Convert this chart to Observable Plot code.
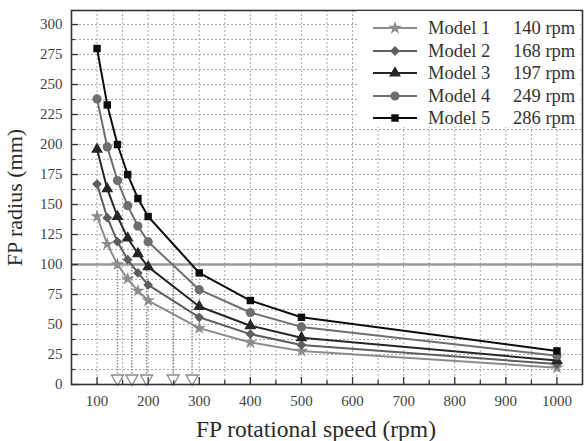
<!DOCTYPE html>
<html>
<head>
<meta charset="utf-8">
<script src="https://cdn.jsdelivr.net/npm/d3@7"></script>
<script src="https://cdn.jsdelivr.net/npm/@observablehq/plot@0.6"></script>
<style>
  body { margin: 0; background: #fff; }
  #chart { position: relative; width: 584px; height: 441px; overflow: hidden; font-family: "Liberation Serif", "DejaVu Serif", serif; }
  #chart svg text { font-family: "Liberation Serif", "DejaVu Serif", serif; }
  #legend {
    position: absolute; left: 357px; top: 11px; width: 223px; height: 116px;
    background: #fff; font-family: "Liberation Serif", "DejaVu Serif", serif;
    font-size: 18.5px; color: #333;
  }
  .row { position: absolute; left: 0; width: 223px; height: 22px; white-space: nowrap; }
  .row svg { position: absolute; left: 14px; top: 0; display: block; }
  .row span { position: absolute; top: 0; line-height: 22px; }
</style>
</head>
<body>
<div id="chart"></div>
<script>
// FP radius (mm) against FP rotational speed (rpm) for five models
const speeds = [100, 120, 140, 160, 180, 200, 300, 400, 500, 1000];
const model1 = [140, 117, 100, 88, 78, 70, 47, 35, 28, 14];
const model2 = [167, 139, 119, 104, 93, 83, 56, 42, 33, 17];
const model3 = [196, 163, 140, 122, 109, 98, 65, 49, 39, 20];
const model4 = [238, 198, 170, 149, 132, 119, 79, 60, 48, 24];
const model5 = [280, 233, 200, 175, 155, 140, 93, 70, 56, 28];

const models = ["Model 1", "Model 2", "Model 3", "Model 4", "Model 5"];
const ratedSpeeds = [140, 168, 197, 249, 286];
const seriesColors = ["#8c8c8c", "#5e5e5e", "#262626", "#6e6e6e", "#0d0d0d"];
const seriesSymbols = ["star", "diamond2", "triangle", "circle", "square"];
const symbolRadius = [4.2, 4.4, 4.4, 4.6, 4.2];

const limitRadius = 100;
const yTicks = [0, 25, 50, 75, 100, 125, 150, 175, 200, 225, 250, 275, 300];
const yMinor = [12.5, 37.5, 62.5, 87.5, 112.5, 137.5, 162.5, 187.5, 212.5, 237.5, 262.5, 287.5];
const xTicks = [100, 200, 300, 400, 500, 600, 700, 800, 900, 1000];
const xMinor = [150, 250, 350, 450, 550, 650, 750, 850, 950];

const seriesValues = [model1, model2, model3, model4, model5];
const rows = models.flatMap((m, i) =>
  speeds.map((s, j) => ({model: m, speed: s, radius: seriesValues[i][j]}))
);

const W = 584, H = 441;
const mL = 71, mR = 2, mT = 10, mB = 57;
const innerW = W - mL - mR, innerH = H - mT - mB;
const serif = "'Liberation Serif', 'DejaVu Serif', serif";

const chart = Plot.plot({
  width: W, height: H,
  marginLeft: mL, marginRight: mR, marginTop: mT, marginBottom: mB,
  style: {fontFamily: serif, background: "#fff", color: "#333"},
  x: {domain: [50, 1050]},
  y: {domain: [0, 311.7]},
  color: {domain: models, range: seriesColors},
  symbol: {domain: models, range: seriesSymbols},
  marks: [
    // dotted grid on major and minor positions
    Plot.gridY([...yTicks.slice(1), ...yMinor], {stroke: "#a8a8a8", strokeOpacity: 1, strokeDasharray: "2,2"}),
    Plot.gridX([...xTicks, ...xMinor], {stroke: "#a8a8a8", strokeOpacity: 1, strokeDasharray: "2,2"}),
    // radius limit
    Plot.ruleY([limitRadius], {stroke: "#9a9a9a", strokeWidth: 2.5}),
    // rated speed drop lines with open arrowheads
    Plot.ruleX(ratedSpeeds, {x: d => d, y1: limitRadius, y2: 8, stroke: "#8a8a8a", strokeWidth: 1.5, strokeDasharray: "1.5,1.5"}),
    Plot.dot(ratedSpeeds, {x: d => d, y: 0, dy: -6, symbol: "triangle", rotate: 180, r: 4.5, stroke: "#8a8a8a", strokeWidth: 1.3, fill: "white"}),
    // series
    Plot.line(rows, {x: "speed", y: "radius", z: "model", stroke: "model", strokeWidth: 2}),
    ...models.map((m, i) => Plot.dot(rows.filter(d => d.model === m), {
      x: "speed", y: "radius", symbol: "model", fill: "model", r: symbolRadius[i], stroke: "none"
    })),
    // axis ticks (inward)
    Plot.tickY(yTicks, {y: d => d, insetRight: innerW - 7, stroke: "#333", strokeWidth: 1.3}),
    Plot.tickY(yMinor, {y: d => d, insetRight: innerW - 4, stroke: "#333", strokeWidth: 1.2}),
    Plot.tickX(xTicks, {x: d => d, insetTop: innerH - 7, stroke: "#333", strokeWidth: 1.3}),
    Plot.tickX(xMinor, {x: d => d, insetTop: innerH - 4, stroke: "#333", strokeWidth: 1.2}),
    Plot.axisY(yTicks, {tickSize: 0, tickPadding: 9, fontSize: 15, fill: "#444", label: null, tickFormat: d => String(d)}),
    Plot.axisX(xTicks, {tickSize: 0, tickPadding: 11, fontSize: 15, fill: "#444", label: null, tickFormat: d => String(d)}),
    // axis titles
    Plot.text(["FP radius (mm)"], {frameAnchor: "left", textAnchor: "middle", lineAnchor: "middle", dx: -57, rotate: -90, fontSize: 22, fill: "#2a2a2a"}),
    Plot.text(["FP rotational speed (rpm)"], {frameAnchor: "bottom", textAnchor: "middle", lineAnchor: "bottom", dx: -11, dy: 52, fontSize: 23.5, fill: "#2a2a2a"}),
    Plot.frame({stroke: "#333", strokeWidth: 1.6})
  ]
});

const holder = document.getElementById("chart");
holder.appendChild(chart);

// legend box inside the plot area
const legend = document.createElement("div");
legend.id = "legend";
holder.appendChild(legend);
const symbolMap = {star: d3.symbolStar, diamond2: d3.symbolDiamond2, triangle: d3.symbolTriangle, circle: d3.symbolCircle, square: d3.symbolSquare};
models.forEach((m, i) => {
  const row = document.createElement("div");
  row.className = "row";
  row.style.top = (6 + i * 22.6) + "px";
  const svg = d3.create("svg").attr("width", 48).attr("height", 22);
  svg.append("line").attr("x1", 2).attr("x2", 46).attr("y1", 11).attr("y2", 11)
    .attr("stroke", seriesColors[i]).attr("stroke-width", 2);
  const r = symbolRadius[i];
  svg.append("path").attr("transform", "translate(24,11)")
    .attr("d", d3.symbol(symbolMap[seriesSymbols[i]], Math.PI * r * r)())
    .attr("fill", seriesColors[i]);
  row.appendChild(svg.node());
  const name = document.createElement("span");
  name.style.left = "71px";
  name.textContent = m;
  row.appendChild(name);
  const rpm = document.createElement("span");
  rpm.style.left = "156px";
  rpm.textContent = ratedSpeeds[i] + " rpm";
  row.appendChild(rpm);
  legend.appendChild(row);
});
</script>
</body>
</html>
